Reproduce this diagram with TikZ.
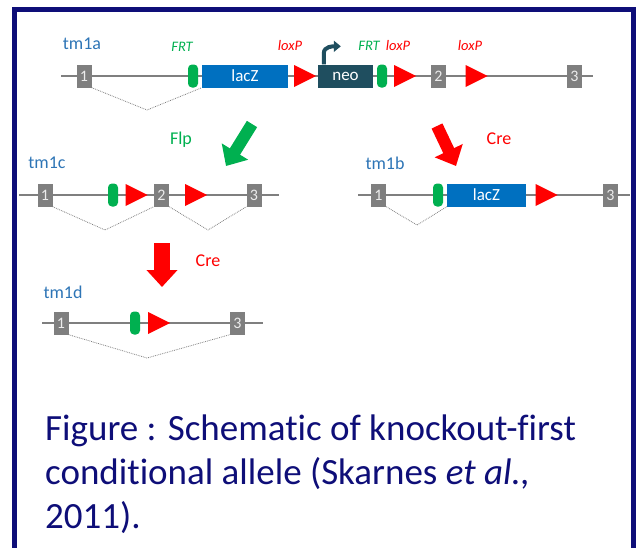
\documentclass[tikz,border=0pt]{standalone}
\usepackage{fontspec}
\setmainfont{Carlito}[Ligatures=NoCommon]
\usetikzlibrary{arrows.meta,shapes.geometric}

\definecolor{framenavy}{RGB}{14,14,120}
\definecolor{allelblue}{RGB}{46,117,182}
\definecolor{laczblue}{RGB}{0,112,192}
\definecolor{neoteal}{RGB}{31,78,95}
\definecolor{frtgreen}{RGB}{0,176,80}
\definecolor{exongray}{RGB}{127,127,127}

\tikzset{
  backbone/.style={draw=exongray, line width=2.5pt},
  exon/.style={fill=exongray, minimum width=15pt, minimum height=23pt, inner sep=0pt,
    text=white!85!gray, font=\fontsize{16}{16}\selectfont},
  cassette/.style={minimum height=23pt, inner sep=0pt, text=white, font=\fontsize{17}{17}\selectfont},
  frtsite/.style={fill=frtgreen, rounded corners=4pt, minimum width=10pt, minimum height=23pt, inner sep=0pt},
  loxsite/.style={isosceles triangle, isosceles triangle stretches, fill=red,
    minimum width=22pt, minimum height=22pt, inner sep=0pt},
  splice/.style={draw=gray, densely dotted, line width=0.8pt},
  allele/.style={text=allelblue, font=\fontsize{18}{18}\selectfont},
  sitename/.style={font=\fontsize{14.5}{14.5}\selectfont\itshape},
  enzyme/.style={font=\fontsize{18}{18}\selectfont},
  blockarrow/.style={line width=12pt, -{Triangle[length=17pt,width=30pt]}}
}

\begin{document}
\begin{tikzpicture}[x=1pt,y=-1pt]
\useasboundingbox (0,0) rectangle (639,547);

% frame, open at the bottom
\draw[framenavy, line width=5pt] (14.5,570) |- (633.5,9) -- (633.5,570);

% tm1a
\node[allele] (a-name) at (82,44) {tm1a};
\coordinate (a-l) at (61,76);
\coordinate (a-r) at (593,76);
\draw[backbone] (a-l) -- (a-r);
\node[exon] (a-ex1) at (84,76) {1};
\node[frtsite] (a-frt1) at (193,76) {};
\node[cassette, fill=laczblue, minimum width=86pt] (a-lacz) at (245,76) {lacZ};
\node[loxsite] (a-lox1) at (301,76) {};
\node[cassette, fill=neoteal, minimum width=55pt] (a-neo) at (345.5,76) {neo};
\node[frtsite] (a-frt2) at (382,76) {};
\node[loxsite] (a-lox2) at (401,76) {};
\node[exon] (a-ex2) at (438.5,76) {2};
\node[loxsite] (a-lox3) at (472.5,76) {};
\node[exon] (a-ex3) at (574.5,76) {3};
\draw[neoteal, line width=4pt, -{Triangle[length=7pt,width=11pt]}]
  ([xshift=6pt]a-neo.north west) -- ++(0,-11) to[out=90,in=180] ++(17,-7);
\node[sitename, text=frtgreen] (a-frt1-name) at (182,47) {FRT};
\node[sitename, text=red] (a-lox1-name) at (290,46) {loxP};
\node[sitename, text=frtgreen] (a-frt2-name) at (369,46) {FRT};
\node[sitename, text=red] (a-lox2-name) at (398,46) {loxP};
\node[sitename, text=red] (a-lox3-name) at (470,46) {loxP};
\coordinate (a-dip) at (147,110);
\draw[splice] (a-ex1.south east) -- (a-dip) -- (a-lacz.south west);

% Flp and Cre steps
\node[enzyme, text=frtgreen] (flp) at (181,140) {Flp};
\coordinate (flp-from) at (252,124);
\coordinate (flp-to) at (226,166);
\draw[blockarrow, frtgreen] (flp-from) -- (flp-to);
\node[enzyme, text=red] (cre-b) at (499,139) {Cre};
\coordinate (cre-b-from) at (437,126);
\coordinate (cre-b-to) at (456,166);
\draw[blockarrow, red] (cre-b-from) -- (cre-b-to);

% tm1c
\node[allele] (c-name) at (47,163) {tm1c};
\coordinate (c-l) at (19,195);
\coordinate (c-r) at (279,195);
\draw[backbone] (c-l) -- (c-r);
\node[exon] (c-ex1) at (45,195) {1};
\node[frtsite] (c-frt) at (113,195) {};
\node[loxsite] (c-lox1) at (132.5,195) {};
\node[exon] (c-ex2) at (161.5,195) {2};
\node[loxsite] (c-lox2) at (192,195) {};
\node[exon] (c-ex3) at (254,195) {3};
\coordinate (c-dip1) at (105,230);
\coordinate (c-dip2) at (208,230);
\draw[splice] (c-ex1.south east) -- (c-dip1) -- (c-ex2.south west);
\draw[splice] (c-ex2.south east) -- (c-dip2) -- (c-ex3.south west);

% tm1b
\node[allele] (b-name) at (385,163) {tm1b};
\coordinate (b-l) at (358,195);
\coordinate (b-r) at (630,195);
\draw[backbone] (b-l) -- (b-r);
\node[exon] (b-ex1) at (378.5,195) {1};
\node[frtsite] (b-frt) at (438,195) {};
\node[cassette, fill=laczblue, minimum width=79pt] (b-lacz) at (486.5,195) {lacZ};
\node[loxsite] (b-lox) at (542.5,195) {};
\node[exon] (b-ex3) at (610.5,195) {3};
\coordinate (b-dip) at (417,225);
\draw[splice] (b-ex1.south east) -- (b-dip) -- (b-lacz.south west);

% Cre on tm1c
\node[enzyme, text=red] (cre-d) at (208,261) {Cre};
\coordinate (cre-d-from) at (162,243);
\coordinate (cre-d-to) at (162,287);
\draw[blockarrow, red, line width=16pt] (cre-d-from) -- (cre-d-to);

% tm1d
\node[allele] (d-name) at (63,292) {tm1d};
\coordinate (d-l) at (42,323);
\coordinate (d-r) at (263,323);
\draw[backbone] (d-l) -- (d-r);
\node[exon] (d-ex1) at (61,323) {1};
\node[frtsite] (d-frt) at (135,323) {};
\node[loxsite] (d-lox) at (155,323) {};
\node[exon] (d-ex3) at (237.5,323) {3};
\coordinate (d-dip) at (147,358);
\draw[splice] (d-ex1.south east) -- (d-dip) -- (d-ex3.south west);

% caption, base is the last line
\node[anchor=base west, inner sep=0pt, align=left, text=framenavy,
  font=\fontsize{37}{44}\selectfont] (caption) at (45,528)
  {Figure : Schematic of knockout-first\\conditional allele (Skarnes \textit{et al.,}\\2011).};
\end{tikzpicture}
\end{document}
